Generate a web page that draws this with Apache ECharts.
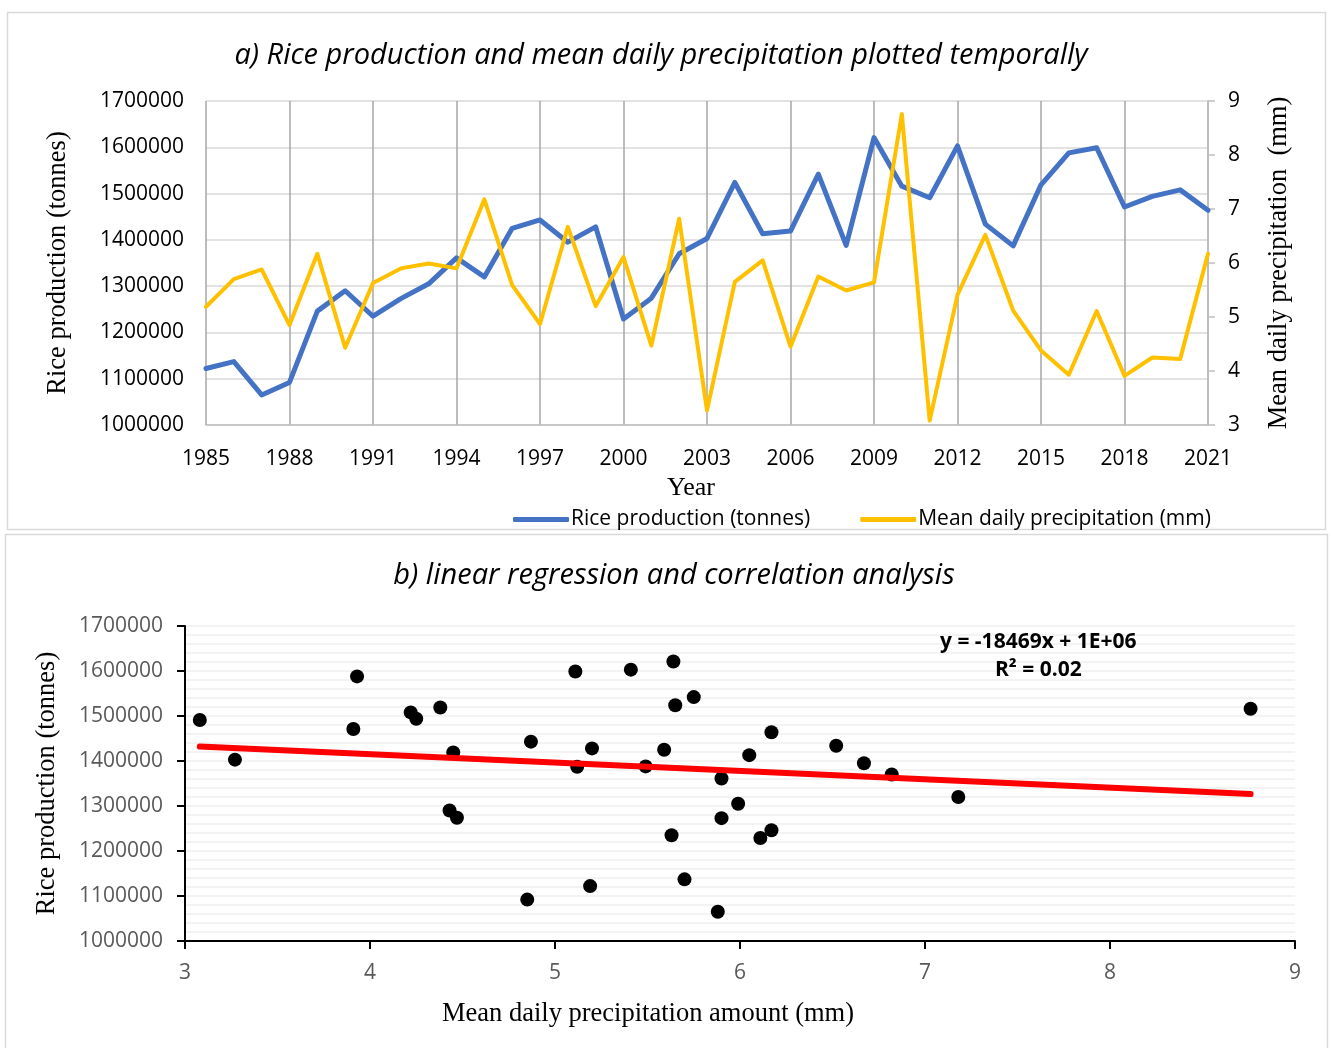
<!DOCTYPE html>
<html>
<head>
<meta charset="utf-8">
<script src="https://cdn.jsdelivr.net/npm/echarts@6/dist/echarts.min.js"></script>
<style>html,body{margin:0;padding:0;background:#fff}#c{width:1332px;height:1048px}</style>
</head>
<body>
<div id="c"></div>
<script>
const years = [1985,1986,1987,1988,1989,1990,1991,1992,1993,1994,1995,1996,1997,1998,1999,2000,2001,2002,2003,2004,2005,2006,2007,2008,2009,2010,2011,2012,2013,2014,2015,2016,2017,2018,2019,2020,2021];
const riceProduction = [1122000,1137000,1065000,1092000,1246000,1290000,1235000,1273000,1305000,1361000,1320000,1425000,1443000,1395000,1428000,1229000,1274000,1370000,1403000,1524000,1413000,1419000,1542000,1388000,1621000,1516000,1491000,1603000,1434000,1387000,1519000,1588000,1599000,1471000,1494000,1508000,1464000];
const precipitation = [5.19,5.70,5.88,4.85,6.17,4.43,5.63,5.90,5.99,5.90,7.18,5.59,4.87,6.67,5.20,6.11,4.47,6.82,3.27,5.65,6.05,4.45,5.75,5.49,5.64,8.76,3.08,5.41,6.52,5.12,4.38,3.93,5.11,3.91,4.25,4.22,6.17];
const equationText = 'y = -18469x + 1E+06';
const r2Text = 'R² = 0.02';
const titleA = 'a) Rice production and mean daily precipitation plotted temporally';
const titleB = 'b) linear regression and correlation analysis';

// least squares trendline from the data
const n = precipitation.length;
let sx=0, sy=0, sxx=0, sxy=0;
for (let i=0;i<n;i++){ sx+=precipitation[i]; sy+=riceProduction[i]; sxx+=precipitation[i]*precipitation[i]; sxy+=precipitation[i]*riceProduction[i]; }
const slope = (n*sxy - sx*sy)/(n*sxx - sx*sx);
const intercept = (sy - slope*sx)/n;
const xMin = Math.min(...precipitation), xMax = Math.max(...precipitation);
const trend = [[xMin, intercept+slope*xMin],[xMax, intercept+slope*xMax]];

const sans = '"Open Sans", "Noto Sans", sans-serif';
const serif = '"Liberation Serif", "DejaVu Serif", serif';
const plain = v => String(v);

const chart = echarts.init(document.getElementById('c'));
chart.setOption({
  animation: false,
  backgroundColor: '#fff',
  title: [
    {text: titleA, left: 656, top: 36, textAlign: 'center', textStyle: {fontFamily: sans, fontStyle: 'italic', fontWeight: 'normal', fontSize: 29, color: '#000'}},
    {text: titleB, left: 669, top: 556, textAlign: 'center', textStyle: {fontFamily: sans, fontStyle: 'italic', fontWeight: 'normal', fontSize: 29, color: '#000'}}
  ],
  graphic: [
    {type: 'rect', shape: {x: 7.5, y: 12.5, width: 1318, height: 517}, style: {fill: 'none', stroke: '#d9d9d9', lineWidth: 1.5}, z: -1},
    {type: 'rect', shape: {x: 5.5, y: 534.5, width: 1322, height: 520}, style: {fill: 'none', stroke: '#d9d9d9', lineWidth: 1.5}, z: -1},
    {type: 'text', left: 940, top: 632, style: {text: equationText, font: 'bold 21px ' + sans, fill: '#000'}, z: 10},
    {type: 'text', left: 995, top: 660, style: {text: r2Text, font: 'bold 21px ' + sans, fill: '#000'}, z: 10}
  ],
  legend: {
    left: 508, top: 504, itemWidth: 56, itemHeight: 5, itemGap: 50, icon: 'roundRect',
    textStyle: {fontFamily: sans, fontSize: 21, color: '#000', padding: [0, 0, 0, -3]},
    data: ['Rice production (tonnes)', 'Mean daily precipitation (mm)']
  },
  grid: [
    {left: 206, right: 124, top: 101, height: 324},
    {left: 185, right: 37, top: 626, height: 315}
  ],
  xAxis: [
    {gridIndex: 0, type: 'value', min: 1985, max: 2021, interval: 3,
     name: 'Year', nameLocation: 'middle', nameGap: 50,
     nameTextStyle: {fontFamily: serif, fontSize: 26, color: '#000', padding: [0, 32, 0, 0]},
     axisLine: {show: true, lineStyle: {color: '#bfbfbf', width: 1.5}}, axisTick: {show: false},
     axisLabel: {fontFamily: sans, fontSize: 21, color: '#000', margin: 24, formatter: plain},
     splitLine: {show: true, lineStyle: {color: '#a6a6a6', width: 1.5}}},
    {gridIndex: 1, type: 'value', min: 3, max: 9, interval: 1,
     name: 'Mean daily precipitation amount (mm)', nameLocation: 'middle', nameGap: 60,
     nameTextStyle: {fontFamily: serif, fontSize: 26.5, color: '#000', padding: [0, 184, 0, 0]},
     axisLine: {show: true, lineStyle: {color: '#000', width: 2}},
     axisTick: {show: true, length: 8, lineStyle: {color: '#000', width: 2}},
     axisLabel: {fontFamily: sans, fontSize: 21, color: '#595959', margin: 22, formatter: plain},
     splitLine: {show: false}}
  ],
  yAxis: [
    {gridIndex: 0, type: 'value', min: 1000000, max: 1700000, interval: 100000,
     name: 'Rice production (tonnes)', nameLocation: 'middle', nameGap: 134, nameRotate: 90,
     nameTextStyle: {fontFamily: serif, fontSize: 26.5, color: '#000'},
     axisLine: {show: false}, axisTick: {show: false},
     axisLabel: {fontFamily: sans, fontSize: 21, color: '#000', margin: 22, formatter: plain},
     splitLine: {show: true, lineStyle: {color: '#d9d9d9', width: 1.5}}},
    {gridIndex: 0, type: 'value', position: 'right', min: 3, max: 9, interval: 1,
     name: 'Mean daily precipitation  (mm)', nameLocation: 'middle', nameGap: 58, nameRotate: 90,
     nameTextStyle: {fontFamily: serif, fontSize: 26.5, color: '#000'},
     axisLine: {show: true, lineStyle: {color: '#bfbfbf', width: 1.5}},
     axisTick: {show: true, inside: false, length: 7, lineStyle: {color: '#bfbfbf', width: 1.5}},
     axisLabel: {fontFamily: sans, fontSize: 21, color: '#000', margin: 20, formatter: plain},
     splitLine: {show: false}},
    {gridIndex: 1, type: 'value', min: 1000000, max: 1700000, interval: 100000,
     name: 'Rice production (tonnes)', nameLocation: 'middle', nameGap: 124, nameRotate: 90,
     nameTextStyle: {fontFamily: serif, fontSize: 26.5, color: '#000'},
     axisLine: {show: true, lineStyle: {color: '#000', width: 2}},
     axisTick: {show: true, length: 8, lineStyle: {color: '#000', width: 2}},
     axisLabel: {fontFamily: sans, fontSize: 21, color: '#595959', margin: 22, formatter: plain},
     minorTick: {show: false, splitNumber: 5},
     minorSplitLine: {show: true, lineStyle: {color: '#efefef', width: 1.5}},
     splitLine: {show: true, lineStyle: {color: '#efefef', width: 1.5}}}
  ],
  series: [
    {name: 'Rice production (tonnes)', type: 'line', xAxisIndex: 0, yAxisIndex: 0,
     data: years.map((y,i)=>[y, riceProduction[i]]), showSymbol: false, symbol: 'none',
     itemStyle: {color: '#4472c4'}, lineStyle: {color: '#4472c4', width: 5, join: 'round', cap: 'round'}, z: 3},
    {name: 'Mean daily precipitation (mm)', type: 'line', xAxisIndex: 0, yAxisIndex: 1,
     data: years.map((y,i)=>[y, precipitation[i]]), showSymbol: false, symbol: 'none',
     itemStyle: {color: '#ffc000'}, lineStyle: {color: '#ffc000', width: 4, join: 'round', cap: 'round'}, z: 4},
    {name: 'scatter', type: 'scatter', xAxisIndex: 1, yAxisIndex: 2,
     data: precipitation.map((p,i)=>[p, riceProduction[i]]), symbolSize: 14,
     itemStyle: {color: '#000', opacity: 1}, z: 3},
    {name: 'trend', type: 'line', xAxisIndex: 1, yAxisIndex: 2, data: trend,
     showSymbol: false, symbol: 'none', lineStyle: {color: '#ff0000', width: 6, cap: 'round'}, z: 4}
  ]
});
</script>
</body>
</html>
